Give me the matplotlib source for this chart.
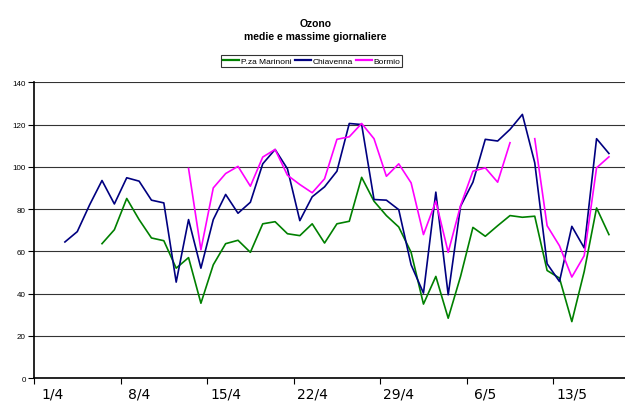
import matplotlib.pyplot as plt
import numpy as np

plt.rcParams['font.family'] = ['Liberation Sans', 'DejaVu Sans']

# giorni dal 1/4 (0 = 1/4, 30 = 1/5)
days = list(range(1, 46))

marinoni = [None, None, None, 63.6, 70.2, 85.0, 75.0, 66.3, 65.0, 52.0,
            57.0, 35.4, 53.6, 63.6, 65.2, 59.5, 73.0, 74.0, 68.3, 67.4,
            73.0, 63.9, 73.0, 74.2, 95.0, 83.7, 76.9, 71.5, 59.5, 35.0,
            48.1, 28.3, 48.1, 71.3, 67.1, 72.1, 76.9, 76.1, 76.6, 50.9,
            47.3, 26.7, 50.4, 80.5, 67.9]
chiavenna = [64.4, 69.3, 82.0, 93.5, 82.4, 94.8, 93.2, 84.2, 82.9, 45.4,
             75.0, 52.0, 75.0, 86.9, 78.0, 83.2, 101.4, 108.2, 99.0, 74.5,
             85.8, 90.5, 97.9, 120.5, 120.0, 84.5, 84.2, 79.7, 53.6, 40.2,
             88.0, 39.4, 81.3, 92.7, 113.0, 112.2, 117.7, 124.8, 101.9, 54.1,
             45.7, 71.8, 61.6, 113.3, 106.3]
bormio = [None, None, None, None, None, None, None, None, None, None,
          99.2, 60.7, 90.0, 96.8, 100.2, 90.8, 104.6, 108.2, 96.0, 91.6,
          87.7, 94.3, 113.0, 114.2, 120.5, 113.3, 95.5, 101.4, 92.4, 67.9,
          83.7, 59.5, 81.6, 97.9, 99.5, 92.7, 111.4, None, 113.3, 72.1,
          62.6, 47.8, 57.9, 99.5, 104.7]

label_days = [0, 7, 14, 21, 28, 35, 42]
tick_labels = ['1/4', '8/4', '15/4', '22/4', '29/4', '6/5', '13/5']


def to_array(values):
    return np.array([np.nan if v is None else v for v in values], dtype=float)


fig = plt.figure(figsize=(6.25, 4.02), dpi=100)
ax = fig.add_axes([0.0544, 0.0572, 0.9456, 0.7356])

ax.plot(days, to_array(marinoni), color='#008000', lw=1.2, label='P.za Marinoni')
ax.plot(days, to_array(chiavenna), color='#000080', lw=1.2, label='Chiavenna')
ax.plot(days, to_array(bormio), color='#FF00FF', lw=1.2, label='Bormio')

ax.set_xlim(-1.5, 46.3)
ax.set_ylim(0, 140)
ax.set_yticks(range(0, 141, 20))
ax.yaxis.grid(True, color='#333333', lw=0.8)
ax.set_axisbelow(True)

# tick marks on category boundaries, labels on the dates
ax.set_xticks(np.arange(-1.5, 46, 7))
ax.set_xticklabels([])
ax.set_xticks(label_days, minor=True)
ax.set_xticklabels(tick_labels, minor=True, fontsize=10,
                   family=['DejaVu Sans'])
ax.tick_params(axis='x', which='minor', length=0, pad=6)
ax.tick_params(axis='x', which='major', length=4, width=0.8)
ax.tick_params(axis='y', labelsize=5.8, length=4, width=0.8, pad=2)

for side in ['top', 'right']:
    ax.spines[side].set_visible(False)
ax.spines['left'].set_linewidth(1.2)
ax.spines['bottom'].set_linewidth(1.2)

fig.text(0.505, 0.94, 'Ozono', ha='center', va='center',
         fontsize=7.5, fontweight='bold')
fig.text(0.505, 0.908, 'medie e massime giornaliere', ha='center',
         va='center', fontsize=7.5, fontweight='bold')

leg = fig.legend(loc='center', bbox_to_anchor=(0.499, 0.845), ncol=3,
                 fontsize=6, frameon=True, fancybox=False, edgecolor='black',
                 handlelength=1.9, handletextpad=0.2, columnspacing=0.4,
                 borderpad=0.25, borderaxespad=0)
leg.get_frame().set_linewidth(0.8)
for line in leg.get_lines():
    line.set_linewidth(1.6)

fig.savefig('out.png', dpi=100)
